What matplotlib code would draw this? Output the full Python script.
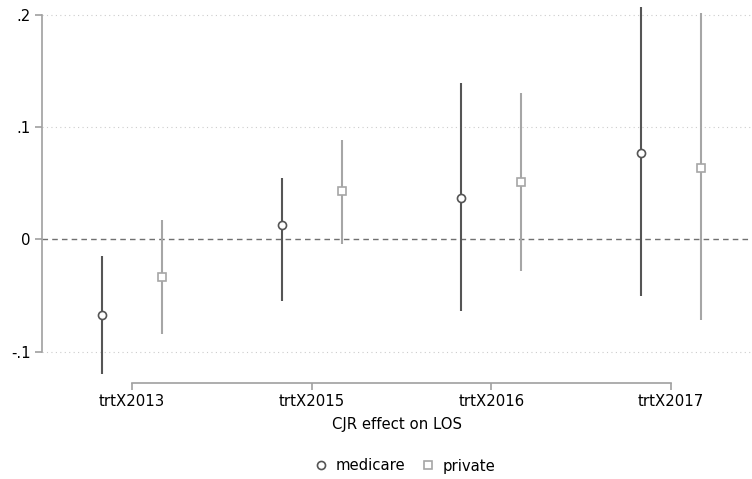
import numpy as np
import matplotlib
matplotlib.use("Agg")
import matplotlib.pyplot as plt

# coefficient estimates and 95% CI
terms = ["trtX2013", "trtX2015", "trtX2016", "trtX2017"]
medicare_b = [-0.0676, 0.0124, 0.0373, 0.0773]
medicare_lo = [-0.120, -0.055, -0.064, -0.0507]
medicare_hi = [-0.0151, 0.055, 0.1396, 0.207]
private_b = [-0.0338, 0.0427, 0.0507, 0.064]
private_lo = [-0.0844, -0.0044, -0.0284, -0.072]
private_hi = [0.0169, 0.0889, 0.1307, 0.2018]
yticks = [-0.1, 0, 0.1, 0.2]
ytick_labels = ["-.1", "0", ".1", ".2"]

dark = "#555555"
light = "#a6a6a6"
axis_col = "#a0a0a0"
fs = 10.7

fig = plt.figure(figsize=(7.52, 4.79), dpi=100)
ax = fig.add_axes([42 / 752, 96 / 479, 710 / 752, 383 / 479])

x = np.arange(1, len(terms) + 1)
off = 0.167

# grid and zero line
for yt in yticks:
    if yt != 0:
        ax.axhline(yt, color="#cccccc", lw=0.8, ls=(0, (1, 3)), zorder=0)
ax.axhline(0, color="#707070", lw=1.0, ls=(0, (4, 3)), zorder=1)

ax.vlines(x - off, medicare_lo, medicare_hi, color=dark, lw=1.5, zorder=2)
ax.plot(x - off, medicare_b, "o", ms=5.8, mfc="white", mec=dark, mew=1.2,
        ls="none", label="medicare", zorder=3)
ax.vlines(x + off, private_lo, private_hi, color=light, lw=1.5, zorder=2)
ax.plot(x + off, private_b, "s", ms=5.8, mfc="white", mec=light, mew=1.2,
        ls="none", label="private", zorder=3)

ax.set_xlim(0.499, 4.45)
ax.set_ylim(-0.128, 0.2133)
ax.set_xticks(x)
ax.set_xticklabels(terms, fontsize=fs)
ax.set_yticks(yticks)
ax.set_yticklabels(ytick_labels, fontsize=fs)
ax.set_xlabel("CJR effect on LOS", fontsize=fs, labelpad=6)

for s in ["top", "right"]:
    ax.spines[s].set_visible(False)
ax.spines["left"].set_bounds(-0.1, 0.2)
ax.spines["bottom"].set_bounds(1, 4)
for s in ["left", "bottom"]:
    ax.spines[s].set_color(axis_col)
    ax.spines[s].set_linewidth(1.2)
ax.tick_params(axis="both", color=axis_col, length=5, width=1.2, pad=3)

fig.legend(loc="center", bbox_to_anchor=(404.5 / 752, 1 - 466 / 479), ncol=2,
           frameon=False, fontsize=fs, handletextpad=0.5, columnspacing=1.05,
           handlelength=1.0)

fig.savefig("out.png", dpi=100)
